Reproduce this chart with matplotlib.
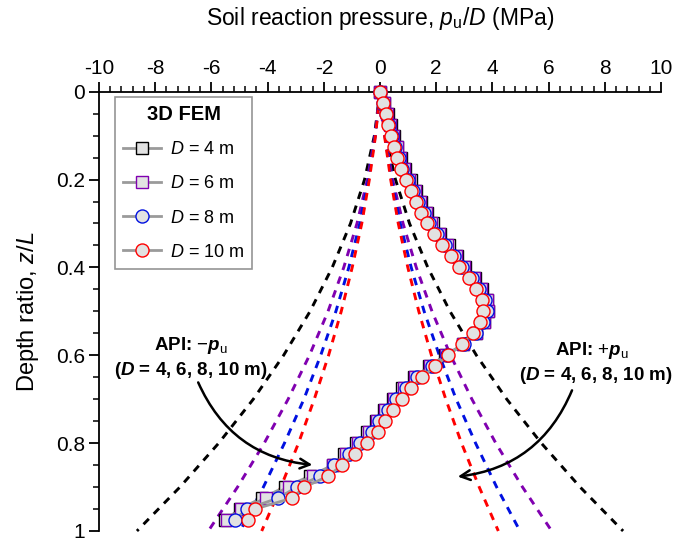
import matplotlib
matplotlib.use('Agg')
import matplotlib.pyplot as plt
import numpy as np
from matplotlib.ticker import MultipleLocator

plt.rcParams['font.family'] = 'Liberation Sans'
plt.rcParams['axes.unicode_minus'] = False
plt.rcParams['mathtext.fontset'] = 'custom'
plt.rcParams['mathtext.rm'] = 'Liberation Sans'
plt.rcParams['mathtext.it'] = 'Liberation Sans:italic'
plt.rcParams['mathtext.bf'] = 'Liberation Sans:bold'
plt.rcParams['mathtext.bfit'] = 'Liberation Sans:bold:italic'

# 3D FEM results (depth ratio z/L vs pu/D in MPa)
z_fem = [0, 0.025, 0.05, 0.075, 0.1, 0.125, 0.15, 0.175, 0.2, 0.225,
         0.25, 0.275, 0.3, 0.325, 0.35, 0.375, 0.4, 0.425, 0.45, 0.475,
         0.5, 0.525, 0.55, 0.575, 0.6, 0.625, 0.65, 0.675, 0.7, 0.725,
         0.75, 0.775, 0.8, 0.825, 0.85, 0.875, 0.9, 0.925, 0.95, 0.975]
fem_d4 = [0, 0.14, 0.27, 0.38, 0.48, 0.62, 0.75, 0.90, 1.09,
          1.28, 1.47, 1.67, 1.88, 2.15, 2.44, 2.74, 3.04, 3.38, 3.62, 3.80, 3.84,
          3.70, 3.40, 2.96,
          2.32, 1.76, 1.22, 0.80, 0.45, 0.14, -0.16,
          -0.45, -0.85, -1.27, -1.68, -2.49,
          -3.38, -4.21, -5.00, -5.50]
fem_d6 = [0, 0.13, 0.25, 0.36, 0.46, 0.59, 0.71, 0.86, 1.04,
          1.24, 1.43, 1.62, 1.83, 2.10, 2.39, 2.69, 3.00, 3.34, 3.59, 3.79, 3.83,
          3.70, 3.40, 2.97,
          2.34, 1.79, 1.26, 0.85, 0.50, 0.19, -0.10,
          -0.40, -0.80, -1.22, -1.66, -2.40,
          -3.25, -4.05, -4.95, -5.45]
fem_d8 = [0, 0.12, 0.23, 0.33, 0.43, 0.55, 0.67, 0.80, 0.98,
          1.18, 1.36, 1.55, 1.76, 2.02, 2.31, 2.62, 2.92, 3.27, 3.53, 3.74, 3.80,
          3.68, 3.40, 2.98,
          2.38, 1.84, 1.32, 0.92, 0.57, 0.27, -0.03,
          -0.30, -0.70, -1.12, -1.62, -2.14,
          -2.96, -3.62, -4.75, -5.16]
fem_d10 = [0, 0.10, 0.21, 0.30, 0.39, 0.51, 0.62, 0.75, 0.93,
           1.10, 1.28, 1.46, 1.66, 1.93, 2.22, 2.52, 2.82, 3.17, 3.42, 3.62, 3.68,
           3.56, 3.30, 2.91,
           2.43, 1.96, 1.48, 1.10, 0.77, 0.47, 0.18,
           -0.08, -0.47, -0.89, -1.36, -1.84,
           -2.69, -3.12, -4.45, -4.69]

# API ultimate resistance (pu/D, MPa)
z_api = [0, 0.1, 0.2, 0.3, 0.4, 0.5, 0.6, 0.7, 0.8, 0.9, 1.0]
api_d4 = [0, 0.20, 0.55, 1.05, 1.70, 2.49, 3.43, 4.51, 5.74, 7.12, 8.65]
api_d6 = [0, 0.18, 0.45, 0.82, 1.29, 1.85, 2.51, 3.27, 4.12, 5.07, 6.11]
api_d8 = [0, 0.17, 0.41, 0.72, 1.11, 1.57, 2.11, 2.71, 3.40, 4.15, 4.98]
api_d10 = [0, 0.16, 0.38, 0.65, 0.99, 1.38, 1.83, 2.34, 2.90, 3.53, 4.21]

labels = [r'$D$ = 4 m', r'$D$ = 6 m', r'$D$ = 8 m', r'$D$ = 10 m']
colors = ['black', '#8000b0', '#0010e0', '#ff0000']
markers = ['s', 's', 'o', 'o']

fig = plt.figure(figsize=(6.88, 5.41), dpi=100)
ax = fig.add_axes([0.1439, 0.0185, 0.8169, 0.812])

dash = (0, (2.6, 2.4))
for api, c in zip([api_d4, api_d6, api_d8, api_d10], colors):
    ax.plot(api, z_api, color=c, lw=2.1, linestyle=dash, zorder=2, clip_on=False)
    ax.plot(-np.array(api), z_api, color=c, lw=2.1, linestyle=dash, zorder=2, clip_on=False)

handles = []
for fem, c, m, lab in zip([fem_d4, fem_d6, fem_d8, fem_d10], colors, markers, labels):
    ms = 8.8 if m == 's' else 9.4
    h, = ax.plot(fem, z_fem, color='#9a9a9a', lw=2.0, marker=m, ms=ms,
                 mfc='#e2e2e2', mec=c, mew=1.0, label=lab, zorder=3, clip_on=False)
    handles.append(h)

ax.set_xlim(-10, 10)
ax.set_ylim(1, 0)
ax.xaxis.tick_top()
ax.xaxis.set_label_position('top')
ax.xaxis.set_major_locator(MultipleLocator(2))
ax.xaxis.set_minor_locator(MultipleLocator(0.4))
ax.yaxis.set_minor_locator(MultipleLocator(0.05))
ax.set_yticks([0, 0.2, 0.4, 0.6, 0.8, 1.0])
ax.set_yticklabels(['0', '0.2', '0.4', '0.6', '0.8', '1'])
ax.spines['right'].set_visible(False)
ax.spines['bottom'].set_visible(False)
for s in ['top', 'left']:
    ax.spines[s].set_linewidth(1.3)
ax.tick_params(which='major', direction='out', length=7, width=1.3, labelsize=15, pad=3)
ax.tick_params(which='minor', direction='out', length=4, width=1.1)

ax.set_xlabel(r'Soil reaction pressure, $p_\mathrm{u}$/$D$ (MPa)', fontsize=16.5, labelpad=24)
ax.set_ylabel(r'Depth ratio, $z$/$L$', fontsize=17, labelpad=11)

leg = ax.legend(handles=handles, loc='upper left', bbox_to_anchor=(0.028, 0.988),
                borderaxespad=0, fontsize=13, title='3D FEM',
                title_fontproperties={'weight': 'bold', 'size': 14.5},
                fancybox=False, edgecolor='#7a7a7a', handlelength=2.1,
                labelspacing=0.95, borderpad=0.45, handletextpad=0.5)
leg.get_frame().set_linewidth(1.2)
leg.set_zorder(5)

ax.text(-6.73, 0.577, r'API: $-\mathbfit{p}_\mathrm{u}$', fontsize=13.5,
        fontweight='bold', ha='center', va='center')
ax.text(-6.73, 0.634, r'($\mathbfit{D}$ = 4, 6, 8, 10 m)', fontsize=13.5,
        fontweight='bold', ha='center', va='center')
ax.text(7.54, 0.588, r'API: $+\mathbfit{p}_\mathrm{u}$', fontsize=13.5,
        fontweight='bold', ha='center', va='center')
ax.text(7.69, 0.647, r'($\mathbfit{D}$ = 4, 6, 8, 10 m)', fontsize=13.5,
        fontweight='bold', ha='center', va='center')

ax.annotate('', xy=(-2.31, 0.850), xytext=(-6.51, 0.656),
            arrowprops=dict(arrowstyle='->,head_length=0.7,head_width=0.35',
                            connectionstyle='arc3,rad=0.3', lw=1.8, color='black'))
ax.annotate('', xy=(2.67, 0.877), xytext=(6.87, 0.674),
            arrowprops=dict(arrowstyle='->,head_length=0.7,head_width=0.35',
                            connectionstyle='arc3,rad=-0.3', lw=1.8, color='black'))

fig.savefig('out.png', dpi=100)
